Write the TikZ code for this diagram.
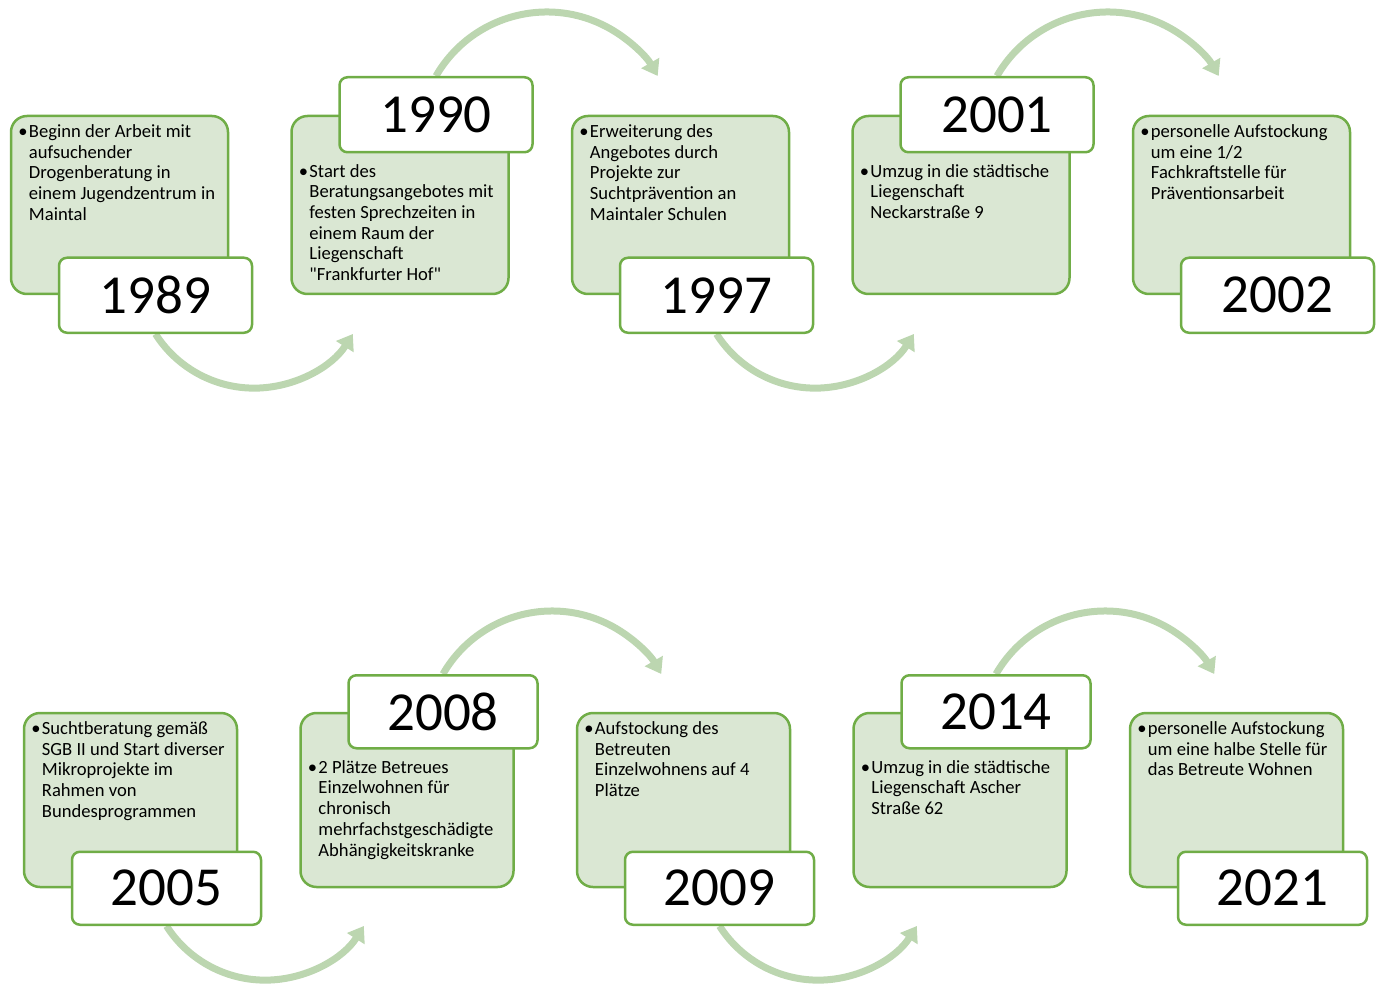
\documentclass[tikz,border=0pt]{standalone}
\usepackage{fontspec}
\setmainfont{Carlito}[Ligatures=TeXOff]
\usepackage{xcolor}
\usepackage{tikz}
\usetikzlibrary{arrows.meta,calc,positioning,backgrounds}
\definecolor{leafline}{HTML}{70AD47}
\definecolor{leaffill}{HTML}{DAE7D3}
\definecolor{flowgreen}{HTML}{BCD6B0}
\newcommand{\bulletlines}[1]{\parbox[t]{205pt}{\makebox[10.5pt][l]{\textbullet}\parbox[t]{194pt}{\raggedright #1}}}

\begin{document}
\begin{tikzpicture}[
  x=1pt,y=1pt,
  phase/.style={draw=leafline,fill=leaffill,line width=2.5pt,rounded corners=16pt,minimum width=217pt,minimum height=178pt,inner sep=0pt},
  phaselow/.style={phase,minimum width=213pt,minimum height=174pt},
  year/.style={draw=leafline,fill=white,line width=2.5pt,rounded corners=8pt,minimum width=193pt,minimum height=75pt,inner sep=0pt,font=\fontsize{55}{60}\selectfont},
  yearlow/.style={year,minimum width=189pt,minimum height=73pt},
  note/.style={anchor=base west,inner sep=0pt,font=\fontsize{18.6}{20.7}\selectfont},
  flow/.style={draw=flowgreen,line width=7pt,-{Triangle[length=15pt,width=20pt]}},
  node distance=61pt
]
\useasboundingbox (0,0) rectangle (1381,-984);

% upper row
\node[phase] (p1989) at (119.5,-205) {};
\node[phase,right=of p1989] (p1990) {};
\node[phase,right=of p1990] (p1997) {};
\node[phase,right=of p1997] (p2001) {};
\node[phase,right=of p2001] (p2002) {};
\node[year] (y1989) at ($(p1989.south)+(36,0)$) {1989};
\node[year] (y1990) at ($(p1990.north)+(36,0)$) {1990};
\node[year] (y1997) at ($(p1997.south)+(36,0)$) {1997};
\node[year] (y2001) at ($(p2001.north)+(36,0)$) {2001};
\node[year] (y2002) at ($(p2002.south)+(36,0)$) {2002};
\node[note] (t1989) at ($(p1989.north west)+(8.5,-22.7)$) {\bulletlines{Beginn der Arbeit mit\\aufsuchender\\Drogenberatung in\\einem Jugendzentrum in\\Maintal}};
\node[note] (t1990) at ($(p1990.west |- y1990.south)+(8.5,-23.7)$) {\bulletlines{Start des\\Beratungsangebotes mit\\festen Sprechzeiten in\\einem Raum der\\Liegenschaft\\"Frankfurter Hof"}};
\node[note] (t1997) at ($(p1997.north west)+(8.5,-22.7)$) {\bulletlines{Erweiterung des\\Angebotes durch\\Projekte zur\\Suchtprävention an\\Maintaler Schulen}};
\node[note] (t2001) at ($(p2001.west |- y2001.south)+(8.5,-23.7)$) {\bulletlines{Umzug in die städtische\\Liegenschaft\\Neckarstraße 9}};
\node[note] (t2002) at ($(p2002.north west)+(8.5,-22.7)$) {\bulletlines{personelle Aufstockung\\um eine 1/2\\Fachkraftstelle für\\Präventionsarbeit}};

% lower row
\node[phaselow] (p2005) at (130.5,-800) {};
\node[phaselow,right=of p2005] (p2008) {};
\node[phaselow,right=of p2008] (p2009) {};
\node[phaselow,right=of p2009] (p2014) {};
\node[phaselow,right=of p2014] (p2021) {};
\node[yearlow] (y2005) at ($(p2005.south)+(36,0)$) {2005};
\node[yearlow] (y2008) at ($(p2008.north)+(36,0)$) {2008};
\node[yearlow] (y2009) at ($(p2009.south)+(36,0)$) {2009};
\node[yearlow] (y2014) at ($(p2014.north)+(36,0)$) {2014};
\node[yearlow] (y2021) at ($(p2021.south)+(36,0)$) {2021};
\node[note] (t2005) at ($(p2005.north west)+(8.5,-22.7)$) {\bulletlines{Suchtberatung gemäß\\SGB II und Start diverser\\Mikroprojekte im\\Rahmen von\\Bundesprogrammen}};
\node[note] (t2008) at ($(p2008.west |- y2008.south)+(8.5,-23.7)$) {\bulletlines{2 Plätze Betreues\\Einzelwohnen für\\chronisch\\mehrfachstgeschädigte\\Abhängigkeitskranke}};
\node[note] (t2009) at ($(p2009.north west)+(8.5,-22.7)$) {\bulletlines{Aufstockung des\\Betreuten\\Einzelwohnens auf 4\\Plätze}};
\node[note] (t2014) at ($(p2014.west |- y2014.south)+(8.5,-23.7)$) {\bulletlines{Umzug in die städtische\\Liegenschaft Ascher\\Straße 62}};
\node[note] (t2021) at ($(p2021.north west)+(8.5,-22.7)$) {\bulletlines{personelle Aufstockung\\um eine halbe Stelle für\\das Betreute Wohnen}};

% curved arrows behind the boxes
\begin{scope}[on background layer]
\draw[flow] (y1989.south) arc[start angle=212.5,end angle=327.5,radius=117pt];
\draw[flow] (y1990.north) arc[start angle=150,end angle=30,radius=128pt];
\draw[flow] (y1997.south) arc[start angle=212.5,end angle=327.5,radius=117pt];
\draw[flow] (y2001.north) arc[start angle=150,end angle=30,radius=128pt];
\draw[flow] (y2005.south) arc[start angle=212.5,end angle=327.5,radius=117pt];
\draw[flow] (y2008.north) arc[start angle=150,end angle=30,radius=126pt];
\draw[flow] (y2009.south) arc[start angle=212.5,end angle=327.5,radius=117pt];
\draw[flow] (y2014.north) arc[start angle=150,end angle=30,radius=126pt];
\end{scope}
\end{tikzpicture}
\end{document}
